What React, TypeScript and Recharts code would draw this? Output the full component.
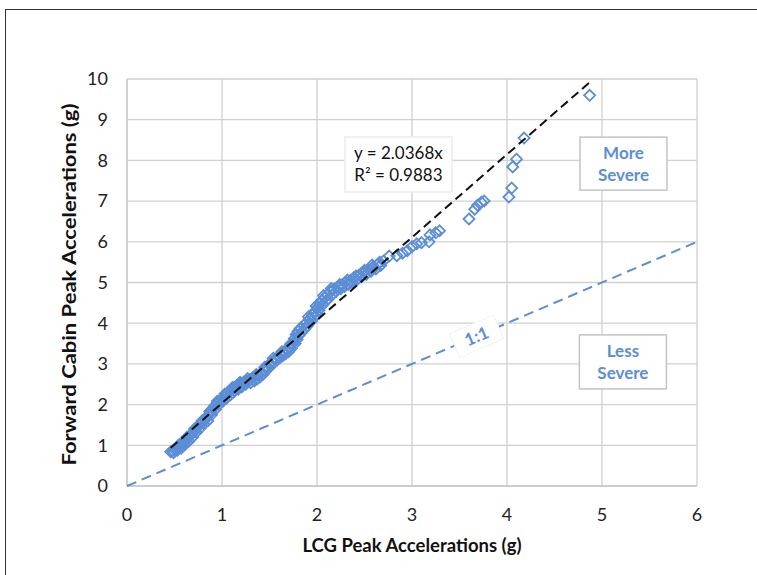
import React from 'react';
import {
  ScatterChart,
  Scatter,
  XAxis,
  YAxis,
  CartesianGrid,
  ReferenceDot,
} from 'recharts';

// LCG peak vs forward cabin peak accelerations (g)
const lcgPeak = [
  0.46, 0.48, 0.5, 0.52, 0.54, 0.56, 0.58, 0.6, 0.62, 0.64, 0.66, 0.68, 0.7, 0.72, 0.74, 0.76,
  0.78, 0.8, 0.82, 0.84, 0.86, 0.88, 0.9, 0.92, 0.94, 0.96, 0.98, 1.0, 1.02, 1.04, 1.06, 1.08,
  1.1, 1.12, 1.14, 1.16, 1.18, 1.2, 1.23, 1.26, 1.29, 1.32, 1.35, 1.38, 1.41, 1.44, 1.47, 1.5,
  1.53, 1.56, 1.59, 1.62, 1.65, 1.68, 1.71, 1.74, 1.76, 1.78, 1.8, 1.83, 1.86, 1.89, 1.92, 1.95,
  1.98, 2.01, 2.03, 2.05, 2.08, 2.11, 2.14, 2.18, 2.22, 2.26, 2.3, 2.35, 2.39, 2.44, 2.49, 2.54,
  2.59, 2.64, 2.7, 2.76, 2.84, 2.9, 2.95, 3.0, 3.05, 3.1, 3.18, 3.19, 3.25, 3.29, 3.6, 3.66,
  3.69, 3.73, 3.76, 4.02, 4.05, 4.06, 4.1, 4.18, 4.87,
  // second, slightly lower run through the dense part
  0.49, 0.53, 0.57, 0.61, 0.65, 0.69, 0.73, 0.77, 0.81, 0.85, 0.89, 0.93, 0.97, 1.01, 1.05, 1.09,
  1.13, 1.17, 1.21, 1.25, 1.3, 1.34, 1.37, 1.4, 1.43, 1.46, 1.49, 1.52, 1.55, 1.58, 1.61, 1.64,
  1.67, 1.7, 1.73, 1.77, 1.79, 1.81, 1.84, 1.87, 1.9, 1.94, 1.97, 2.0, 2.02, 2.06, 2.09, 2.12,
  2.16, 2.2, 2.25, 2.29, 2.33, 2.37, 2.42, 2.47, 2.52, 2.57, 2.62, 2.67,
  // and a slightly higher one
  0.55, 0.63, 0.71, 0.79, 0.87, 0.95, 1.03, 1.11, 1.19, 1.27, 1.36, 1.45, 1.54, 1.63, 1.72, 1.82,
  1.91, 1.99, 2.07, 2.15, 2.24, 2.32, 2.41, 2.5, 2.58, 2.66,
];
const cabinPeak = [
  0.84, 0.86, 0.89, 0.92, 0.95, 0.98, 1.03, 1.07, 1.13, 1.18, 1.22, 1.28, 1.33, 1.39, 1.45, 1.5,
  1.55, 1.58, 1.63, 1.69, 1.75, 1.82, 1.9, 1.96, 2.01, 2.06, 2.1, 2.14, 2.19, 2.24, 2.28, 2.32,
  2.36, 2.4, 2.43, 2.46, 2.49, 2.52, 2.55, 2.58, 2.61, 2.65, 2.69, 2.72, 2.77, 2.84, 2.92, 3.0,
  3.06, 3.12, 3.18, 3.23, 3.29, 3.35, 3.4, 3.5, 3.62, 3.72, 3.8, 3.88, 3.95, 4.02, 4.1, 4.2,
  4.3, 4.4, 4.48, 4.56, 4.62, 4.7, 4.78, 4.84, 4.89, 4.94, 5.0, 5.05, 5.12, 5.18, 5.25, 5.32,
  5.38, 5.45, 5.53, 5.65, 5.66, 5.72, 5.78, 5.88, 5.95, 5.98, 6.0, 6.17, 6.22, 6.27, 6.56, 6.8,
  6.9, 6.97, 7.0, 7.1, 7.32, 7.84, 8.03, 8.55, 9.6,
  0.82, 0.88, 0.93, 1.02, 1.1, 1.2, 1.32, 1.42, 1.53, 1.6, 1.75, 1.88, 2.0, 2.08, 2.16, 2.24,
  2.33, 2.38, 2.44, 2.5, 2.54, 2.58, 2.63, 2.68, 2.74, 2.82, 2.9, 2.97, 3.03, 3.1, 3.15, 3.2,
  3.25, 3.3, 3.38, 3.5, 3.6, 3.7, 3.78, 3.86, 3.94, 4.05, 4.14, 4.22, 4.32, 4.45, 4.54, 4.6,
  4.7, 4.78, 4.85, 4.9, 4.96, 5.0, 5.06, 5.14, 5.2, 5.28, 5.33, 5.42,
  1.02, 1.2, 1.4, 1.6, 1.83, 2.08, 2.26, 2.42, 2.55, 2.64, 2.74, 2.92, 3.14, 3.3, 3.48, 3.86,
  4.16, 4.42, 4.68, 4.85, 4.95, 5.06, 5.16, 5.3, 5.43, 5.5,
];

// Excel linear trendline through origin
const trendSlope = 2.0368;
const trendX = [0.46, 4.87];
const oneToOneX = [0, 6];

const xTicks = [0, 1, 2, 3, 4, 5, 6];
const yTicks = [0, 1, 2, 3, 4, 5, 6, 7, 8, 9, 10];

const points = lcgPeak.map((x, i) => ({ x, y: cabinPeak[i] }));
const trendData = trendX.map((x) => ({ x, y: x * trendSlope }));
const oneToOne = oneToOneX.map((x) => ({ x, y: x }));

const BLUE = '#5b8ed6';
const FONT = 'Lato, "Open Sans", sans-serif';

function Diamond(props: any) {
  const { cx, cy } = props;
  if (cx == null || cy == null) return <g />;
  const r = 5.5;
  return (
    <polygon
      points={`${cx},${cy - r} ${cx + r},${cy} ${cx},${cy + r} ${cx - r},${cy}`}
      fill="none"
      stroke={BLUE}
      strokeWidth={1.8}
    />
  );
}

const NoDot = () => <g />;

function textBox(lines: string[], w: number, h: number, color: string, weight: number, border: string) {
  return (props: any) => {
    const { cx, cy } = props;
    return (
      <g>
        <rect x={cx - w / 2} y={cy - h / 2} width={w} height={h} fill="#fff" stroke={border} strokeWidth={1.5} />
        {lines.map((t, i) => (
          <text
            key={t}
            x={cx}
            y={cy + (i - (lines.length - 1) / 2) * 22 + 6}
            textAnchor="middle"
            fill={color}
            fontSize={17}
            fontWeight={weight}
            fontFamily={FONT}
          >
            {t}
          </text>
        ))}
      </g>
    );
  };
}

function OneToOneLabel(props: any) {
  const { cx, cy } = props;
  return (
    <g transform={`rotate(-23.2 ${cx} ${cy})`}>
      <rect x={cx - 24} y={cy - 13} width={48} height={26} fill="#fff" stroke="#f2f2f2" />
      <text x={cx} y={cy + 6} textAnchor="middle" fill={BLUE} fontSize={17} fontWeight={700} fontFamily={FONT}>
        1:1
      </text>
    </g>
  );
}

function XTitle({ viewBox }: any) {
  const { x, y, width, height } = viewBox;
  return (
    <text x={x + width / 2} y={y + height + 36} textAnchor="middle" fontSize={18.5} fontWeight={700} fill="#111" fontFamily={FONT}>
      LCG Peak Accelerations (g)
    </text>
  );
}

function YTitle({ viewBox }: any) {
  const { x, y, height } = viewBox;
  const cx = x + 9;
  const cy = y + height / 2 + 2;
  return (
    <text
      x={cx}
      y={cy}
      transform={`rotate(-90 ${cx} ${cy})`}
      textAnchor="middle"
      fontSize={19}
      fontWeight={700}
      fill="#111"
      fontFamily={FONT}
      textLength={362}
      lengthAdjust="spacingAndGlyphs"
    >
      Forward Cabin Peak Accelerations (g)
    </text>
  );
}

export default function App() {
  const tick = { fill: '#222', fontSize: 18, fontFamily: FONT };
  return (
    <div style={{ position: 'absolute', left: 0, top: 0, width: 757, height: 575, overflow: 'hidden', background: '#fff' }}>
      <div style={{ position: 'absolute', left: 5, top: 9, width: 800, height: 620, border: '1.5px solid #333' }} />
      <ScatterChart width={757} height={575} margin={{ top: 79, right: 60, left: 67, bottom: 59 }} style={{ position: 'absolute', left: 0, top: 0 }}>
        <CartesianGrid stroke="#d0d0d0" strokeWidth={1.3} />
        <XAxis
          type="number"
          dataKey="x"
          domain={[0, 6]}
          ticks={xTicks}
          height={30}
          tick={tick}
          tickLine={false}
          tickSize={0}
          tickMargin={22}
          axisLine={{ stroke: '#c8c8c8', strokeWidth: 1.3 }}
          label={<XTitle />}
        />
        <YAxis
          type="number"
          dataKey="y"
          domain={[0, 10]}
          ticks={yTicks}
          width={60}
          tick={tick}
          tickLine={false}
          tickSize={0}
          tickMargin={19}
          axisLine={{ stroke: '#c8c8c8', strokeWidth: 1.3 }}
          label={<YTitle />}
        />
        <Scatter
          data={oneToOne}
          line={{ stroke: BLUE, strokeWidth: 2, strokeDasharray: '10 6' }}
          shape={NoDot}
          isAnimationActive={false}
        />
        <Scatter data={points} shape={Diamond} isAnimationActive={false} />
        <Scatter
          data={trendData}
          line={{ stroke: '#111', strokeWidth: 2, strokeDasharray: '9 5' }}
          shape={NoDot}
          isAnimationActive={false}
        />
        <ReferenceDot x={2.857} y={7.9} r={1} shape={textBox(['y = 2.0368x', 'R² = 0.9883'], 107, 55, '#111', 400, '#ececec')} />
        <ReferenceDot x={5.226} y={7.92} r={1} shape={textBox(['More', 'Severe'], 87, 53, BLUE, 700, '#c4c4c4')} />
        <ReferenceDot x={5.22} y={3.05} r={1} shape={textBox(['Less', 'Severe'], 87, 54, BLUE, 700, '#c4c4c4')} />
        <ReferenceDot x={3.68} y={3.68} r={1} shape={OneToOneLabel} />
      </ScatterChart>
    </div>
  );
}
